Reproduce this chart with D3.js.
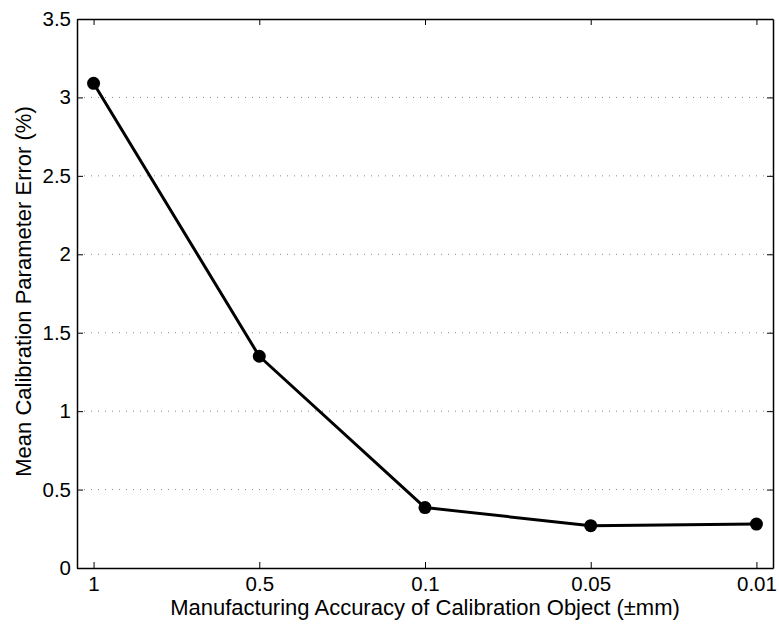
<!DOCTYPE html>
<html>
<head>
<meta charset="utf-8">
<script src="https://cdn.jsdelivr.net/npm/d3@7"></script>
<style>
  body { margin: 0; background: #fff; }
  svg text { font-family: "Liberation Sans", Arial, Helvetica, sans-serif; fill: #000; }
</style>
</head>
<body>
<svg id="chart" width="779" height="626"></svg>
<script>
// data
const accuracies = ["1", "0.5", "0.1", "0.05", "0.01"];
const meanErrors = [3.09, 1.35, 0.385, 0.27, 0.28];
const yTicks = [0, 0.5, 1, 1.5, 2, 2.5, 3, 3.5];

const svg = d3.select("#chart");
const margin = { top: 19, right: 6, bottom: 58, left: 77 };
const W = 779, H = 626;
const iw = W - margin.left - margin.right;
const ih = H - margin.top - margin.bottom;

const g = svg.append("g").attr("transform", `translate(${margin.left},${margin.top})`);

const x = d3.scalePoint().domain(accuracies).range([0, iw]).padding(0.1);
const y = d3.scaleLinear().domain([0, 3.5]).range([ih, 0]);

// dotted grid lines
g.selectAll(".grid")
  .data(yTicks.filter(d => d > 0 && d < 3.5))
  .join("line")
    .attr("x1", 0).attr("x2", iw)
    .attr("y1", d => y(d)).attr("y2", d => y(d))
    .attr("stroke", "#888")
    .attr("stroke-width", 1)
    .attr("stroke-dasharray", "1,6");

// axes, ticks inward
const tk = 6;
const xAxis = g.append("g").attr("transform", `translate(0,${ih})`)
  .call(d3.axisBottom(x).tickSizeInner(-tk).tickSizeOuter(0).tickPadding(8));
const xTop = g.append("g")
  .call(d3.axisTop(x).tickSizeInner(-tk).tickSizeOuter(0).tickFormat(""));
const yAxis = g.append("g")
  .call(d3.axisLeft(y).tickValues(yTicks).tickSizeInner(-tk).tickSizeOuter(0).tickPadding(6).tickFormat(d3.format("")));
const yRight = g.append("g").attr("transform", `translate(${iw},0)`)
  .call(d3.axisRight(y).tickValues(yTicks).tickSizeInner(-tk).tickSizeOuter(0).tickFormat(""));

[xAxis, xTop, yAxis, yRight].forEach(a => {
  a.attr("font-family", null).attr("font-size", null);
  a.select(".domain").attr("stroke", "#000").attr("stroke-width", 1.5);
  a.selectAll(".tick line").attr("stroke", "#000").attr("stroke-width", 1);
  a.selectAll("text").style("font-size", "20.5px");
});

// series line + markers
const line = d3.line()
  .x((d, i) => x(accuracies[i]))
  .y(d => y(d));

g.append("path")
  .datum(meanErrors)
  .attr("d", line)
  .attr("fill", "none")
  .attr("stroke", "#000")
  .attr("stroke-width", 3)
  .attr("stroke-linejoin", "round");

g.selectAll(".pt")
  .data(meanErrors)
  .join("circle")
    .attr("cx", (d, i) => x(accuracies[i]))
    .attr("cy", d => y(d))
    .attr("r", 6.5)
    .attr("fill", "#000");

// axis labels
svg.append("text")
  .attr("x", margin.left + iw / 2)
  .attr("y", 615)
  .attr("text-anchor", "middle")
  .style("font-size", "22px")
  .text("Manufacturing Accuracy of Calibration Object (±mm)");

svg.append("text")
  .attr("transform", `translate(31,${margin.top + ih / 2 - 2}) rotate(-90)`)
  .attr("text-anchor", "middle")
  .style("font-size", "22px")
  .text("Mean Calibration Parameter Error (%)");
</script>
</body>
</html>
